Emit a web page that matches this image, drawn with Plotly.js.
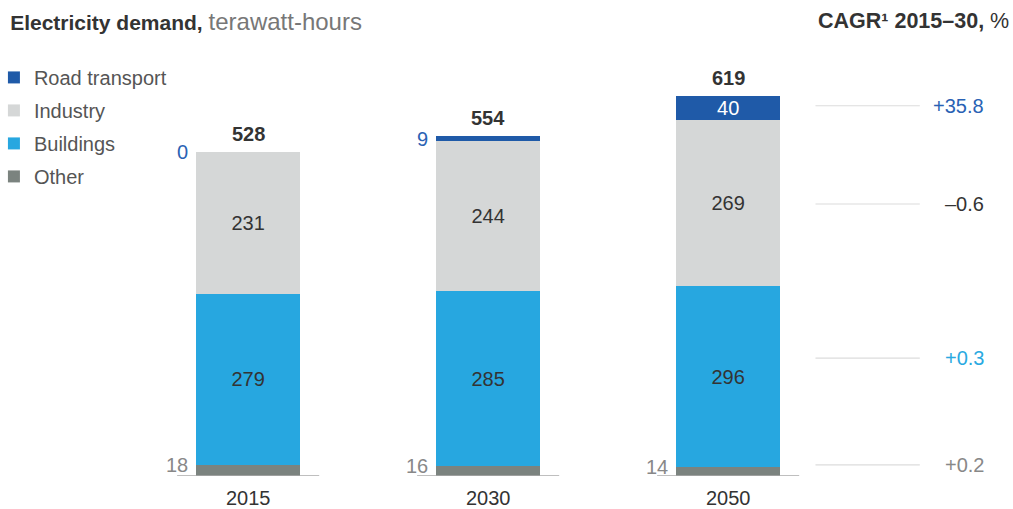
<!DOCTYPE html>
<html><head><meta charset="utf-8">
<script src="https://cdn.plot.ly/plotly-3.0.1.min.js"></script>
<style>html,body{margin:0;padding:0;background:#fff}#chart{width:1013px;height:509px}</style>
</head><body><div id="chart"></div>
<script>
const years = ['2015', '2030', '2050'];
const other = [18, 16, 14];
const buildings = [279, 285, 296];
const industry = [231, 244, 269];
const road = [0, 9, 40];
const cagrLabels = ['+35.8', '\u20130.6', '+0.3', '+0.2'];
const seriesNames = ['Road transport', 'Industry', 'Buildings', 'Other'];

const C = {road:'#1f5aa8', industry:'#d5d7d7', buildings:'#27a7e0', other:'#7b837f'};
const FONT = 'Liberation Sans, Arial, sans-serif';
const totals = years.map((_, i) => other[i] + buildings[i] + industry[i] + road[i]);

function barTrace(name, y, color, text, tcolor, rank) {
  return {type:'bar', name, x:years, y, marker:{color, line:{width:0}},
    text, textposition:'inside', insidetextanchor:'middle', constraintext:'none', textangle:0,
    textfont:{family:FONT, size:20, color:tcolor}, hoverinfo:'skip',
    legendgroup:name, legendrank:rank};
}
const traces = [
  barTrace(seriesNames[3], other, C.other, other.map(() => ''), '#fff', 4),
  barTrace(seriesNames[2], buildings, C.buildings, buildings.map(String), '#333', 3),
  barTrace(seriesNames[1], industry, C.industry, industry.map(String), '#333', 2),
  barTrace(seriesNames[0], road, C.road, road.map(v => v >= 20 ? String(v) : ''), '#fff', 1),
];

const annotations = [];
// totals
years.forEach((yr, i) => annotations.push({x:i, y:totals[i], xref:'x', yref:'y', text:'<b>'+totals[i]+'</b>',
  showarrow:false, yanchor:'bottom', yshift:5, font:{family:FONT, size:20, color:'#333'}}));
// road labels to the left (except where inside)
years.forEach((yr, i) => { if (road[i] < 20) annotations.push({x:i, y:totals[i] - road[i]/2, xref:'x', yref:'y',
  text:String(road[i]), showarrow:false, xanchor:'right', xshift:-58, yanchor:'middle', font:{family:FONT, size:20, color:'#2a62b4'}}); });
// other labels to the left
years.forEach((yr, i) => annotations.push({x:i, y:other[i], xref:'x', yref:'y', text:String(other[i]),
  showarrow:false, xanchor:'right', xshift:-58, yanchor:'middle', font:{family:FONT, size:20, color:'#888'}}));
// CAGR
const cagrY = [603, 443, 192, 18];
const cagrColors = ['#2a62b4', '#333', '#29a9e1', '#888'];
const shapes = [];
cagrLabels.forEach((t, k) => {
  annotations.push({xref:'paper', yref:'y', x:0.973, y:cagrY[k], text:t, showarrow:false, xanchor:'right', yanchor:'middle',
    font:{family:FONT, size:20, color:cagrColors[k]}});
  shapes.push({type:'line', xref:'paper', yref:'y', x0:0.805, x1:0.908, y0:cagrY[k], y1:cagrY[k], line:{color:'#dcdcdc', width:1.2}});
});
annotations.push({xref:'paper', yref:'paper', x:0.998, y:1.093, xanchor:'right', yanchor:'middle', showarrow:false,
  text:'<b>CAGR\u00b9 2015\u201330,</b> %', font:{family:FONT, size:21.5, color:'#333'}});
// baselines
years.forEach((yr, i) => shapes.push({type:'line', xref:'x', yref:'y', x0:i-0.296, x1:i+0.296, y0:0, y1:0,
  line:{color:'#aaaaaa', width:1.5}}));

const layout = {
  width:1013, height:509, margin:{l:0, r:0, t:60, b:33, autoexpand:false},
  paper_bgcolor:'#fff', plot_bgcolor:'#fff',
  barmode:'stack', bargap:0.567,
  showlegend:true,
  legend:{x:-0.006, xanchor:'left', y:1.005, yanchor:'top', traceorder:'grouped', tracegroupgap:4,
    font:{family:FONT, size:20, color:'#555'}, bgcolor:'rgba(0,0,0,0)'},
  title:{text:'<b>Electricity demand,</b> <span style="color:#777;font-size:24px">terawatt-hours</span>', x:0.01, xanchor:'left', xref:'container',
    y:0.955, yanchor:'middle', yref:'container', font:{family:FONT, size:21, color:'#333'}},
  xaxis:{type:'category', range:[-1.034, 3.187], showgrid:false, zeroline:false, showline:false, ticks:'',
    ticklabelstandoff:8, tickfont:{family:FONT, size:20, color:'#333'}, fixedrange:true},
  yaxis:{range:[0, 677.5], visible:false, fixedrange:true},
  annotations, shapes,
  font:{family:FONT}
};
Plotly.newPlot('chart', traces, layout, {displayModeBar:false, staticPlot:true});
</script></body></html>
